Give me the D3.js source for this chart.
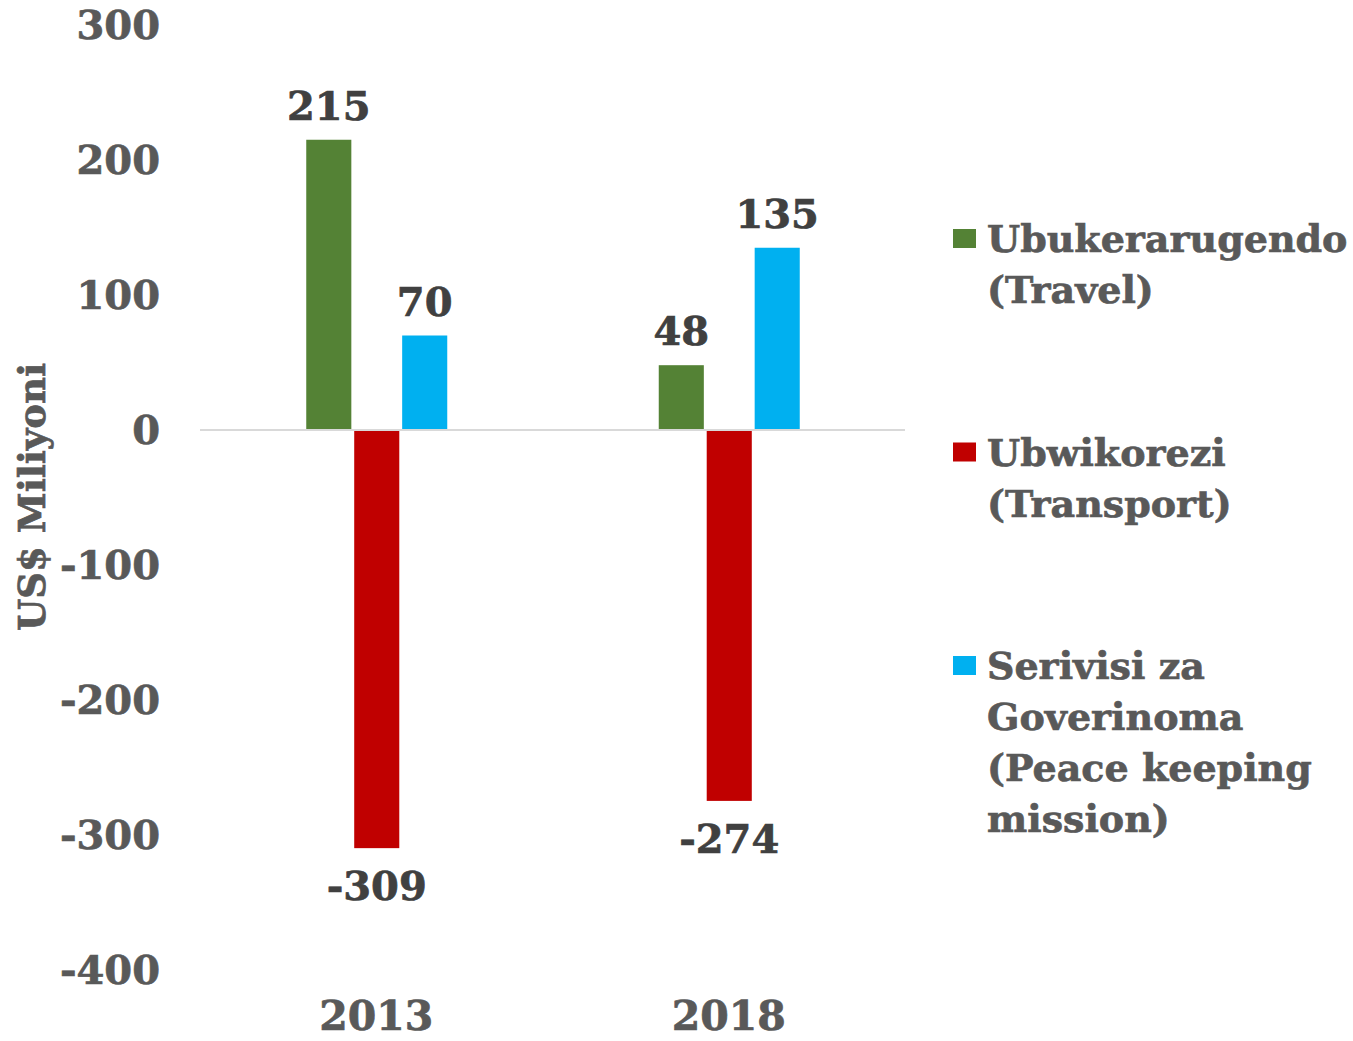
<!DOCTYPE html>
<html>
<head>
<meta charset="utf-8">
<script src="https://cdn.jsdelivr.net/npm/d3@7"></script>
<style>
  body { margin: 0; background: #fff; }
  text { font-family: "DejaVu Serif", serif; font-weight: bold; stroke-width: 0.7px; }
</style>
</head>
<body>
<div id="vis"></div>
<script>
const years = ["2013", "2018"];
const series = ["Ubukerarugendo (Travel)", "Ubwikorezi (Transport)", "Serivisi za Goverinoma (Peace keeping mission)"];
const travel = [215, 48];
const transport = [-309, -274];
const government = [70, 135];
const yTicks = [300, 200, 100, 0, -100, -200, -300, -400];
const legendLines = [
  ["Ubukerarugendo", "(Travel)"],
  ["Ubwikorezi", "(Transport)"],
  ["Serivisi za", "Goverinoma", "(Peace keeping", "mission)"]
];
const colors = ["#548235", "#C00000", "#00B0F0"];

const width = 1353, height = 1041;
const values = [travel, transport, government];

const svg = d3.select("#vis").append("svg")
  .attr("width", width)
  .attr("height", height);

const x0 = d3.scaleBand().domain(years).range([200, 905]);
const x1 = d3.scaleBand().domain(d3.range(series.length))
  .range([x0.bandwidth() / 2 - 70, x0.bandwidth() / 2 + 71])
  .paddingInner(0.06);
const y = d3.scaleLinear().domain([-400, 300]).range([970, 25]);

// ticks
svg.append("g")
  .selectAll("text")
  .data(yTicks)
  .enter()
  .append("text")
  .attr("x", 160)
  .attr("y", d => y(d))
  .attr("dy", "0.36em")
  .attr("text-anchor", "end")
  .style("font-size", "40px")
  .style("fill", "#595959")
  .style("stroke", "#595959")
  .text(d => d);

// zero line
svg.append("line")
  .attr("x1", 200).attr("x2", 905)
  .attr("y1", y(0)).attr("y2", y(0))
  .style("stroke", "#D9D9D9")
  .style("stroke-width", 2);

// bars
const groups = svg.selectAll("g.year")
  .data(years)
  .enter()
  .append("g")
  .attr("class", "year")
  .attr("transform", d => `translate(${x0(d)},0)`);

groups.each(function (yr, yi) {
  const g = d3.select(this);
  values.forEach((vals, si) => {
    const v = vals[yi];
    g.append("rect")
      .attr("x", x1(si))
      .attr("width", x1.bandwidth())
      .attr("y", v >= 0 ? y(v) : y(0) + 1)
      .attr("height", Math.abs(y(v) - y(0)) - (v >= 0 ? 1 : 0))
      .style("fill", colors[si]);
    g.append("text")
      .attr("x", x1(si) + x1.bandwidth() / 2)
      .attr("y", v >= 0 ? y(v) - 20 : y(v) + 53)
      .attr("text-anchor", "middle")
      .style("font-size", "40px")
      .style("fill", "#404040")
      .style("stroke", "#404040")
      .text(v);
  });
});

// year labels
svg.append("g")
  .selectAll("text")
  .data(years)
  .enter()
  .append("text")
  .attr("x", d => x0(d) + x0.bandwidth() / 2)
  .attr("y", 1030)
  .attr("text-anchor", "middle")
  .style("font-size", "41px")
  .style("fill", "#595959")
  .style("stroke", "#595959")
  .text(d => d);

// y axis title
svg.append("text")
  .attr("transform", "translate(45,497) rotate(-90)")
  .attr("text-anchor", "middle")
  .style("font-size", "37px")
  .style("fill", "#595959")
  .style("stroke", "#595959")
  .text("US$ Miliyoni");

// legend
const legend = svg.selectAll("g.legend")
  .data(series)
  .enter()
  .append("g")
  .attr("class", "legend")
  .attr("transform", (_d, i) => `translate(953,${229 + i * 213.5})`);

legend.append("rect")
  .attr("width", 23)
  .attr("height", 19)
  .style("fill", (_d, i) => colors[i]);

legend.each(function (_d, i) {
  const t = d3.select(this).append("text")
    .style("font-size", "38px")
    .style("fill", "#595959")
    .style("stroke", "#595959");
  legendLines[i].forEach((line, li) => {
    t.append("tspan")
      .attr("x", 34)
      .attr("y", 23 + li * 51)
      .text(line);
  });
});
</script>
</body>
</html>
